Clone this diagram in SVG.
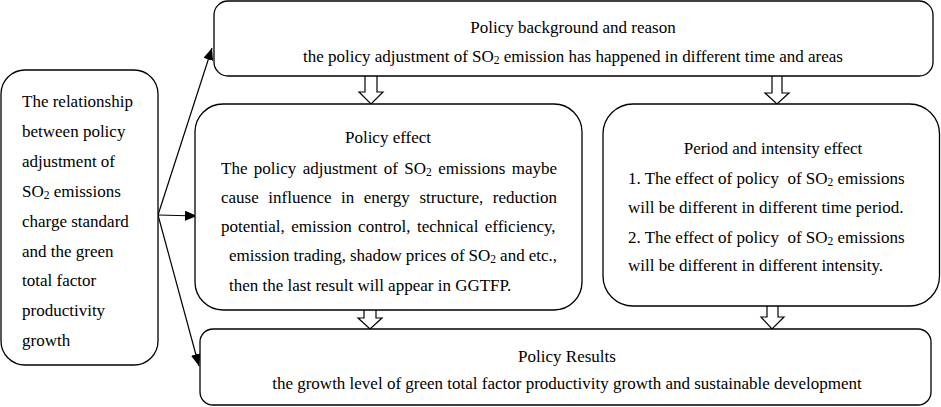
<svg xmlns="http://www.w3.org/2000/svg" width="941" height="407" viewBox="0 0 941 407">
<style>
.box{fill:#fff;stroke:#000;stroke-width:1.3}
text{font-family:'Liberation Serif','DejaVu Serif',serif;font-size:17px;fill:#000}
.c{text-anchor:middle}
.sub{font-size:11.5px}
.pre{white-space:pre}
.ln{stroke:#000;stroke-width:1.2;fill:none;marker-end:url(#ah)}
.blk{fill:#fff;stroke:#000;stroke-width:1.2;stroke-linejoin:miter}
</style>
<defs>
<marker id="ah" viewBox="0 0 12 10" refX="12" refY="5" markerWidth="12" markerHeight="10" markerUnits="userSpaceOnUse" orient="auto">
<path d="M0,0 L12,5 L0,10 Z" fill="#000"/>
</marker>
</defs>
<rect width="941" height="407" fill="#fff"/>

<g id="connectors">
<path class="ln" d="M158,215 L212,48"/>
<path class="ln" d="M158,215 L197,216"/>
<path class="ln" d="M158,215 L199,366"/>
<path class="blk" d="M365,76 L365,92 L359,92 L371,104 L383,92 L377,92 L377,76"/>
<path class="blk" d="M772,76 L772,93 L765,93 L777,104 L789,93 L782,93 L782,76"/>
<path class="blk" d="M364,310 L364,318 L358,318 L370,329 L382,318 L376,318 L376,310"/>
<path class="blk" d="M767,306 L767,317 L761,317 L772,329 L784,317 L778,317 L778,306"/>
</g>

<g id="node-relationship">
<rect class="box" x="1" y="70" width="157" height="295" rx="24" ry="24"/>
<text x="22" y="107">The relationship</text>
<text x="22" y="137">between policy</text>
<text x="22" y="167">adjustment of</text>
<text x="22" y="197">SO<tspan class="sub" dy="1.5">2</tspan><tspan dy="-1.5"> emissions</tspan></text>
<text x="22" y="227">charge standard</text>
<text x="22" y="257">and the green</text>
<text x="22" y="286">total factor</text>
<text x="22" y="316">productivity</text>
<text x="22" y="346">growth</text>
</g>

<g id="node-background">
<rect class="box" x="214" y="1" width="719" height="75" rx="14" ry="14"/>
<text class="c" x="573" y="33">Policy background and reason</text>
<text class="c" x="573" y="62">the policy adjustment of SO<tspan class="sub" dy="1.5">2</tspan><tspan dy="-1.5"> emission has happened in different time and areas</tspan></text>
</g>

<g id="node-effect">
<rect class="box" x="195" y="104" width="387" height="206" rx="28" ry="28"/>
<text class="c" x="388" y="143">Policy effect</text>
<text y="174"><tspan x="221">The</tspan><tspan x="253.8">policy</tspan><tspan x="302.7">adjustment</tspan><tspan x="383.7">of</tspan><tspan x="404.3">SO</tspan><tspan class="sub" dy="1.5">2</tspan><tspan x="438.2" dy="-1.5">emissions</tspan><tspan x="511.7">maybe</tspan></text>
<text y="203"><tspan x="221">cause</tspan><tspan x="268.3">influence</tspan><tspan x="341">in</tspan><tspan x="363.8">energy</tspan><tspan x="419.5">structure,</tspan><tspan x="492.8">reduction</tspan></text>
<text y="232"><tspan x="221">potential,</tspan><tspan x="291.2">emission</tspan><tspan x="358.1">control,</tspan><tspan x="417">technical</tspan><tspan x="484.8">efficiency,</tspan></text>
<text y="261"><tspan x="229">emission</tspan><tspan x="293.5">trading,</tspan><tspan x="349.9">shadow</tspan><tspan x="405.8">prices</tspan><tspan x="450.4">of</tspan><tspan x="468.6">SO</tspan><tspan class="sub" dy="1.5">2</tspan><tspan x="500.1" dy="-1.5">and</tspan><tspan x="528.7">etc.,</tspan></text>
<text x="229" y="291">then the last result will appear in GGTFP.</text>
</g>

<g id="node-period">
<rect class="box" x="603" y="104" width="336.5" height="202" rx="30" ry="30"/>
<text class="c" x="773" y="154">Period and intensity effect</text>
<text class="pre" x="628" y="184">1. The effect of policy  of SO<tspan class="sub" dy="1.5">2</tspan><tspan dy="-1.5"> emissions</tspan></text>
<text x="628" y="213">will be different in different time period.</text>
<text class="pre" x="628" y="243">2. The effect of policy  of SO<tspan class="sub" dy="1.5">2</tspan><tspan dy="-1.5"> emissions</tspan></text>
<text x="628" y="271">will be different in different intensity.</text>
</g>

<g id="node-results">
<rect class="box" x="200" y="329" width="731" height="76" rx="13" ry="13"/>
<text class="c" x="567" y="362">Policy Results</text>
<text class="c" x="567" y="389">the growth level of green total factor productivity growth and sustainable development</text>
</g>
</svg>
